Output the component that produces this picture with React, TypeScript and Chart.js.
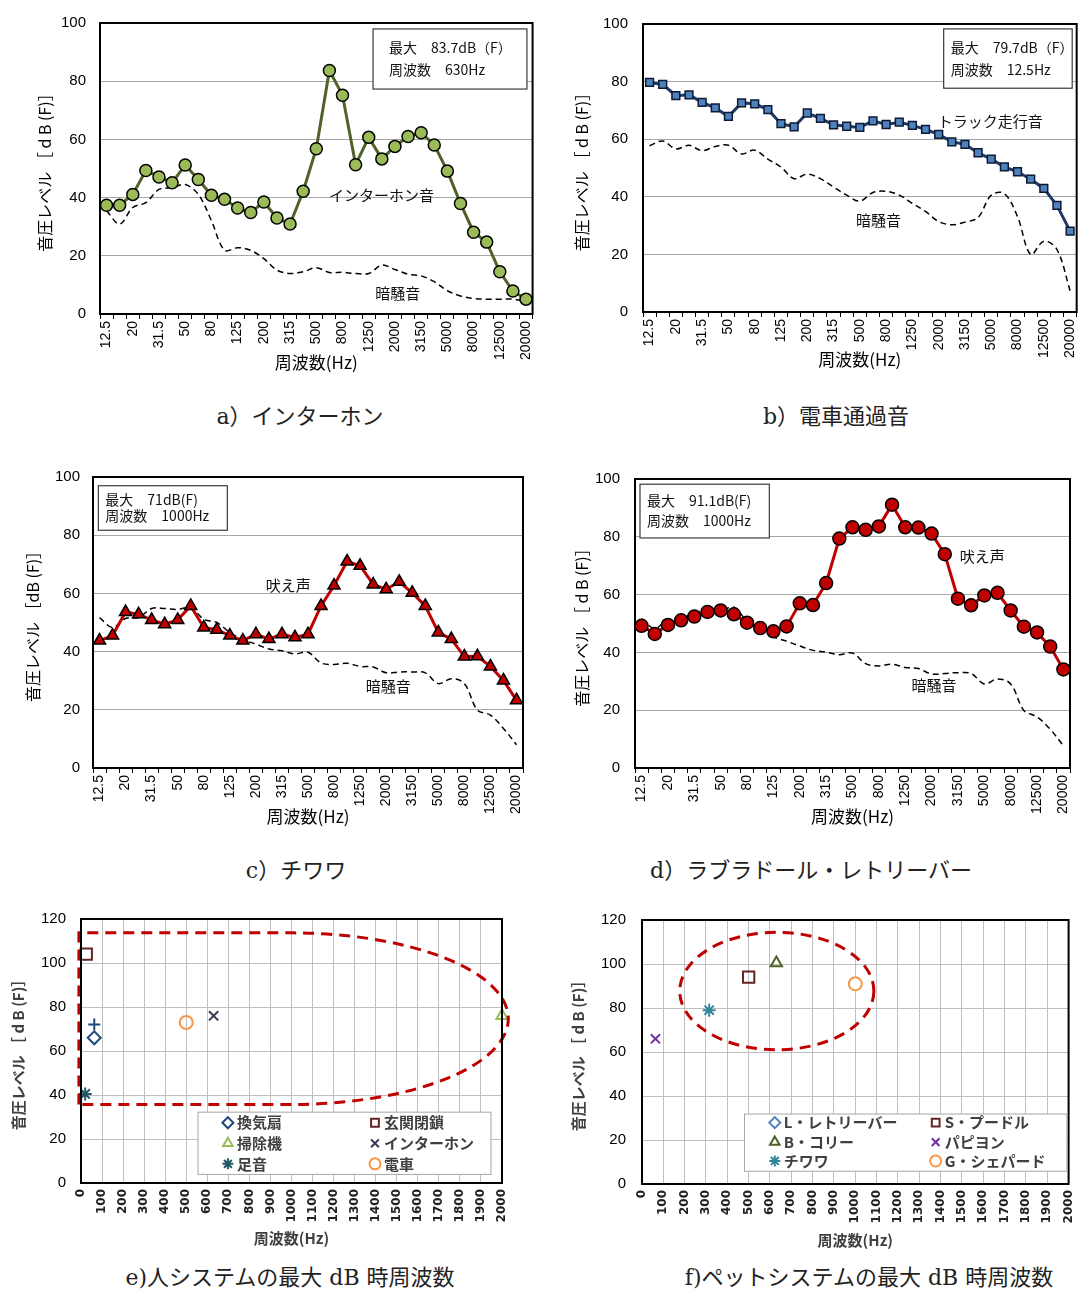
import React, { useEffect, useRef } from 'react';
import { Chart, registerables } from 'chart.js';
import { drawPoint } from 'chart.js/helpers';

Chart.register(...registerables);

const SANS = "'Liberation Sans', 'Noto Sans CJK JP', sans-serif";
const JP = "'Noto Sans CJK JP', 'Liberation Sans', sans-serif";
const BOLDX = "'DejaVu Sans', 'Noto Sans CJK JP', sans-serif";

// ---------- data ----------
const bands = ['12.5', '16', '20', '25', '31.5', '40', '50', '63', '80', '100', '125', '160', '200', '250', '315', '400', '500', '630', '800', '1000', '1250', '1600', '2000', '2500', '3150', '4000', '5000', '6300', '8000', '10000', '12500', '16000', '20000'];

const intercomLevel = [37.4, 37.4, 41.1, 49.3, 47.1, 45.1, 51.2, 46.2, 40.8, 39.4, 36.4, 34.9, 38.5, 33.0, 30.9, 42.2, 56.8, 83.7, 75.2, 51.3, 60.7, 53.3, 57.6, 61.0, 62.3, 58.1, 49.1, 38.0, 28.1, 24.7, 14.5, 7.9, 5.1];
const intercomNoise = [35.5, 30.9, 36.6, 38.3, 42.8, 43.4, 44.5, 41.1, 32.1, 21.9, 22.8, 21.9, 19.0, 15.1, 13.9, 14.5, 15.9, 14.3, 14.3, 13.9, 13.9, 16.8, 15.3, 13.7, 13.1, 11.1, 8.0, 6.2, 5.3, 5.1, 5.1, 5.1, 4.3];

const truckLevel = [79.7, 79.0, 75.1, 75.4, 72.8, 70.9, 67.9, 72.6, 72.3, 70.3, 65.4, 64.3, 69.1, 67.2, 65.0, 64.5, 64.1, 66.4, 65.1, 65.9, 64.8, 63.4, 61.7, 59.1, 58.2, 55.3, 53.1, 50.4, 48.7, 46.1, 42.9, 37.0, 28.1];
const truckNoise = [57.7, 59.4, 56.6, 57.9, 56.0, 57.5, 57.9, 54.9, 56.2, 53.1, 50.3, 46.3, 47.9, 46.3, 43.4, 40.6, 38.5, 41.5, 41.9, 40.6, 37.7, 34.9, 31.4, 30.3, 31.2, 32.8, 40.6, 41.1, 33.1, 20.0, 24.6, 21.7, 7.4];

const chihuahuaLevel = [43.8, 45.5, 53.6, 52.8, 50.9, 49.4, 50.9, 55.7, 48.3, 47.5, 45.5, 43.8, 46.0, 44.3, 46.0, 44.9, 46.0, 55.7, 62.7, 71.0, 69.5, 63.1, 61.4, 64.0, 60.2, 55.7, 46.6, 44.3, 38.3, 38.4, 34.9, 30.1, 23.3];
const chihuahuaNoise = [51.7, 48.3, 51.4, 51.7, 54.8, 54.8, 54.5, 55.1, 51.1, 50.0, 46.6, 44.1, 42.6, 40.9, 40.3, 39.2, 39.8, 36.1, 35.6, 36.0, 34.9, 34.7, 32.7, 33.0, 33.0, 32.7, 29.0, 30.7, 29.0, 19.9, 18.2, 13.6, 8.0];

const labradorLevel = [49.2, 46.4, 49.5, 51.1, 52.4, 54.0, 54.5, 53.2, 50.3, 48.4, 47.3, 49.0, 57.0, 56.4, 64.0, 79.4, 83.3, 82.4, 83.6, 91.1, 83.3, 83.2, 81.1, 74.0, 58.6, 56.3, 59.7, 60.6, 54.5, 48.9, 46.9, 42.0, 34.1];
const labradorNoise = [51.7, 48.3, 51.4, 51.7, 53.7, 54.8, 54.5, 55.6, 51.1, 50.0, 45.5, 43.9, 42.2, 40.7, 40.1, 39.2, 39.8, 36.1, 35.3, 35.9, 34.8, 34.4, 32.5, 32.7, 33.0, 32.7, 29.1, 30.8, 29.1, 19.9, 17.7, 13.4, 7.7];

const humanSources = ['換気扇', '玄関閉鎖', '掃除機', 'インターホン', '足音', '電車'];
const humanFreq = [63, 25, 2000, 630, 20, 500];
const humanLevel = [66, 104, 76, 76, 40.5, 73];
const humanExtraFreq = [63];
const humanExtraLevel = [72];

const petSources = ['L・レトリーバー', 'S・プードル', 'B・コリー', 'パピヨン', 'チワワ', 'G・シェパード'];
const petFreq = [1000, 500, 630, 63, 315, 1000];
const petLevel = [91.1, 94, 100.5, 66, 79, 91];

const yTicks100 = [0, 20, 40, 60, 80, 100];
const yTicks120 = [0, 20, 40, 60, 80, 100, 120];

// ---------- geometry ----------
type Geom = { cx: number; cy: number; cw: number; ch: number; l: number; t: number; r: number; b: number };
const geomA: Geom = { cx: 0, cy: 0, cw: 545, ch: 385, l: 100, t: 20, r: 533, b: 314 };
const geomB: Geom = { cx: 545, cy: 0, cw: 544, ch: 385, l: 643, t: 20, r: 1087, b: 312 };
const geomC: Geom = { cx: 0, cy: 455, cw: 545, ch: 385, l: 93, t: 474, r: 523, b: 768 };
const geomD: Geom = { cx: 545, cy: 455, cw: 544, ch: 385, l: 635, t: 474, r: 1070, b: 768 };
const geomE: Geom = { cx: 0, cy: 895, cw: 545, ch: 360, l: 81, t: 907, r: 502, b: 1183 };
const geomF: Geom = { cx: 545, cy: 895, cw: 544, ch: 360, l: 642, t: 911, r: 1075, b: 1184 };

interface LinePanel {
  key: string;
  geom: Geom;
  label: string;
  values: number[];
  noise: number[];
  lineColor: string;
  pointStyle: string;
  pointRadius: number;
  pointFill: string;
  pointBorder: string;
  yTitle: string;
  yTitleX: number;
  xTitleY: number;
  yTickPad: number;
  infoLines: string[];
  infoBox: [number, number, number, number];
  infoPad: number;
  notes: { text: string; at: [number, number] }[];
}

function makeLineConfig(p: LinePanel): any {
  const g = p.geom;
  const yW = g.l - g.cx;
  const xH = g.cy + g.ch - g.b;
  const yTitleSize = 16;
  const xTitleSize = 17;
  const decor = {
    id: 'decor_' + p.key,
    beforeDatasetsDraw(chart: any) {
      const ctx = chart.ctx;
      const xs = chart.scales.x;
      const ys = chart.scales.y;
      const [i0, i1, vTop, vBot] = p.infoBox;
      const bx0 = xs.getPixelForValue(i0);
      const bx1 = xs.getPixelForValue(i1);
      const by0 = ys.getPixelForValue(vTop);
      const by1 = ys.getPixelForValue(vBot);
      ctx.save();
      ctx.fillStyle = '#ffffff';
      ctx.fillRect(bx0, by0, bx1 - bx0, by1 - by0);
      ctx.strokeStyle = '#3a3a3a';
      ctx.lineWidth = 1.2;
      ctx.strokeRect(bx0, by0, bx1 - bx0, by1 - by0);
      ctx.fillStyle = '#111';
      ctx.font = `14px ${JP}`;
      ctx.textBaseline = 'middle';
      ctx.textAlign = 'left';
      const h = by1 - by0;
      const fr = [0.31, 0.68];
      p.infoLines.forEach((ln, k) => {
        ctx.fillText(ln, bx0 + p.infoPad, by0 + h * fr[k]);
      });
      ctx.font = `15px ${JP}`;
      ctx.textAlign = 'center';
      p.notes.forEach((n) => {
        ctx.fillText(n.text, xs.getPixelForValue(n.at[0]), ys.getPixelForValue(n.at[1]));
      });
      ctx.restore();
    },
    afterDraw(chart: any) {
      const ctx = chart.ctx;
      const a = chart.chartArea;
      ctx.save();
      ctx.strokeStyle = '#000';
      ctx.lineWidth = 2;
      ctx.strokeRect(a.left, a.top, a.right - a.left, a.bottom - a.top);
      ctx.restore();
    },
  };
  return {
    type: 'line',
    data: {
      labels: bands,
      datasets: [
        {
          label: p.label,
          data: p.values,
          borderColor: p.lineColor,
          borderWidth: 3,
          pointStyle: p.pointStyle,
          pointRadius: p.pointRadius,
          pointBackgroundColor: p.pointFill,
          pointBorderColor: p.pointBorder,
          pointBorderWidth: 1.5,
          tension: 0,
          fill: false,
        },
        {
          label: '暗騒音',
          data: p.noise,
          borderColor: '#000',
          borderWidth: 1.5,
          borderDash: [6, 4],
          pointRadius: 0,
          tension: 0.35,
          fill: false,
        },
      ],
    },
    options: {
      responsive: false,
      animation: false,
      devicePixelRatio: 1,
      layout: { padding: { left: 0, top: g.t - g.cy, right: g.cx + g.cw - g.r, bottom: 0 } },
      plugins: { legend: { display: false }, tooltip: { enabled: false } },
      scales: {
        x: {
          type: 'category',
          offset: true,
          afterFit: (s: any) => { s.height = xH; },
          grid: { display: true, offset: true, drawOnChartArea: false, drawTicks: true, tickLength: 5, color: '#000', lineWidth: 1 },
          border: { display: false },
          ticks: {
            autoSkip: false,
            minRotation: 90,
            maxRotation: 90,
            padding: 2,
            color: '#000',
            font: { family: SANS, size: 14 },
            callback: (_v: any, i: number) => (i % 2 === 0 ? bands[i] : ''),
          },
          title: {
            display: true,
            text: '周波数(Hz)',
            color: '#000',
            font: { family: JP, size: xTitleSize },
            padding: { top: 0, bottom: g.cy + g.ch - p.xTitleY - (xTitleSize * 1.2) / 2 },
          },
        },
        y: {
          min: 0,
          max: 100,
          afterFit: (s: any) => { s.width = yW; },
          afterBuildTicks: (s: any) => { s.ticks = yTicks100.map((v) => ({ value: v })); },
          grid: { color: '#a6a6a6', lineWidth: 1, drawTicks: false },
          border: { display: false },
          ticks: { padding: p.yTickPad, color: '#000', font: { family: SANS, size: 15 } },
          title: {
            display: true,
            text: p.yTitle,
            color: '#000',
            font: { family: JP, size: yTitleSize },
            padding: { top: p.yTitleX - g.cx - (yTitleSize * 1.2) / 2, bottom: 0 },
          },
        },
      },
    },
    plugins: [decor],
  };
}

interface ScatterSeries {
  label: string;
  x: number[];
  y: number[];
  style: string;
  color: string;
  fill: string;
  radius: number;
  order: number;
  inLegend: boolean;
}

interface ScatterPanel {
  key: string;
  geom: Geom;
  series: ScatterSeries[];
  yTitleX: number;
  xTitleY: number;
  yTickPad: number;
  ellipse: { cx: number; cy: number; rx: number; ry: number; leftX?: number };
  legendBox: [number, number, number, number];
  legendCols: [number, number];
  legendRows: [number, number, number];
}

function makeScatterConfig(p: ScatterPanel): any {
  const g = p.geom;
  const yW = g.l - g.cx;
  const xH = g.cy + g.ch - g.b;
  const titleSize = 15;
  const decor = {
    id: 'sdecor_' + p.key,
    afterDatasetsDraw(chart: any) {
      const ctx = chart.ctx;
      const xs = chart.scales.x;
      const ys = chart.scales.y;
      const e = p.ellipse;
      const pcx = xs.getPixelForValue(e.cx);
      const pcy = ys.getPixelForValue(e.cy);
      const prx = Math.abs(xs.getPixelForValue(e.cx + e.rx) - pcx);
      const pry = Math.abs(ys.getPixelForValue(e.cy + e.ry) - pcy);
      ctx.save();
      ctx.strokeStyle = '#C00000';
      ctx.lineWidth = 3;
      ctx.setLineDash([11, 7]);
      ctx.beginPath();
      if (e.leftX !== undefined) {
        const lx = xs.getPixelForValue(e.leftX);
        ctx.moveTo(lx, pcy + pry);
        ctx.lineTo(lx, pcy - pry);
        ctx.lineTo(pcx, pcy - pry);
        ctx.ellipse(pcx, pcy, prx, pry, 0, -Math.PI / 2, Math.PI / 2);
        ctx.lineTo(lx, pcy + pry);
      } else {
        ctx.ellipse(pcx, pcy, prx, pry, 0, 0, Math.PI * 2);
      }
      ctx.stroke();
      ctx.restore();
    },
    afterDraw(chart: any) {
      const ctx = chart.ctx;
      const xs = chart.scales.x;
      const ys = chart.scales.y;
      const a = chart.chartArea;
      ctx.save();
      ctx.strokeStyle = '#000';
      ctx.lineWidth = 2;
      ctx.strokeRect(a.left, a.top, a.right - a.left, a.bottom - a.top);
      // legend
      const [lx0, lx1, lyTop, lyBot] = p.legendBox;
      const bx0 = xs.getPixelForValue(lx0);
      const bx1 = xs.getPixelForValue(lx1);
      const by0 = ys.getPixelForValue(lyTop);
      const by1 = ys.getPixelForValue(lyBot);
      ctx.fillStyle = '#fff';
      ctx.fillRect(bx0, by0, bx1 - bx0, by1 - by0);
      ctx.strokeStyle = '#a6a6a6';
      ctx.lineWidth = 1;
      ctx.strokeRect(bx0, by0, bx1 - bx0, by1 - by0);
      const items = p.series.filter((s) => s.inLegend);
      items.forEach((s, k) => {
        const col = k % 2;
        const row = Math.floor(k / 2);
        const mx = bx0 + (bx1 - bx0) * p.legendCols[col];
        const my = by0 + (by1 - by0) * p.legendRows[row];
        ctx.strokeStyle = s.color;
        ctx.fillStyle = s.fill;
        ctx.lineWidth = 2;
        ctx.setLineDash([]);
        drawPoint(ctx, { pointStyle: s.style as any, radius: 5.5, rotation: 0, borderWidth: 2 }, mx, my);
        ctx.fillStyle = '#404040';
        ctx.font = `bold 15px ${JP}`;
        ctx.textAlign = 'left';
        ctx.textBaseline = 'middle';
        ctx.fillText(s.label, mx + 9, my);
      });
      ctx.restore();
    },
  };
  return {
    type: 'scatter',
    data: {
      datasets: p.series.map((s) => ({
        label: s.label,
        data: s.x.map((xv, i) => ({ x: xv, y: s.y[i] })),
        pointStyle: s.style,
        pointRadius: s.radius,
        borderColor: s.color,
        backgroundColor: s.fill,
        pointBorderWidth: 2,
        order: s.order,
        showLine: false,
        clip: false,
      })),
    },
    options: {
      responsive: false,
      animation: false,
      devicePixelRatio: 1,
      layout: { padding: { left: 0, top: g.t - g.cy, right: g.cx + g.cw - g.r, bottom: 0 } },
      plugins: { legend: { display: false }, tooltip: { enabled: false } },
      scales: {
        x: {
          type: 'linear',
          min: 0,
          max: 2000,
          afterFit: (s: any) => { s.height = xH; },
          grid: { color: '#bfbfbf', lineWidth: 1, drawTicks: false },
          border: { display: false },
          ticks: {
            stepSize: 100,
            autoSkip: false,
            minRotation: 90,
            maxRotation: 90,
            padding: 6,
            color: '#222',
            font: { family: BOLDX, size: 12, weight: 'bold' },
            callback: (v: any) => String(v),
          },
          title: {
            display: true,
            text: '周波数(Hz)',
            color: '#404040',
            font: { family: JP, size: titleSize, weight: 'bold' },
            padding: { top: 0, bottom: g.cy + g.ch - p.xTitleY - (titleSize * 1.2) / 2 },
          },
        },
        y: {
          min: 0,
          max: 120,
          afterFit: (s: any) => { s.width = yW; },
          afterBuildTicks: (s: any) => { s.ticks = yTicks120.map((v) => ({ value: v })); },
          grid: { color: '#bfbfbf', lineWidth: 1, drawTicks: false },
          border: { display: false },
          ticks: { padding: p.yTickPad, color: '#000', font: { family: SANS, size: 15 } },
          title: {
            display: true,
            text: '音圧レベル ［ d B (F)］',
            color: '#404040',
            font: { family: JP, size: titleSize, weight: 'bold' },
            padding: { top: p.yTitleX - g.cx - (titleSize * 1.2) / 2, bottom: 0 },
          },
        },
      },
    },
    plugins: [decor],
  };
}

// ---------- panels ----------
const panelA: LinePanel = {
  key: 'a', geom: geomA, label: 'インターホン音', values: intercomLevel, noise: intercomNoise,
  lineColor: '#4F6228', pointStyle: 'circle', pointRadius: 6, pointFill: '#9BBB59', pointBorder: '#000',
  yTitle: '音圧レベル ［ d B (F)］', yTitleX: 45, xTitleY: 363, yTickPad: 14,
  infoLines: ['最大　83.7dB（F）', '周波数　630Hz'], infoBox: [20.33, 32.07, 97.96, 77.3], infoPad: 16,
  notes: [{ text: 'インターホン音', at: [20.97, 40.7] }, { text: '暗騒音', at: [22.21, 7.1] }],
};
const panelB: LinePanel = {
  key: 'b', geom: geomB, label: 'トラック走行音', values: truckLevel, noise: truckNoise,
  lineColor: '#1F3864', pointStyle: 'rect', pointRadius: 5.5, pointFill: '#4F81BD', pointBorder: '#0d1a33',
  yTitle: '音圧レベル ［ d B (F)］', yTitleX: 582, xTitleY: 360, yTickPad: 15,
  infoLines: ['最大　79.7dB（F）', '周波数　12.5Hz'], infoBox: [22.38, 32.16, 98.3, 77.7], infoPad: 7,
  notes: [{ text: 'トラック走行音', at: [25.92, 66.3] }, { text: '暗騒音', at: [17.42, 31.7] }],
};
const panelC: LinePanel = {
  key: 'c', geom: geomC, label: '吠え声', values: chihuahuaLevel, noise: chihuahuaNoise,
  lineColor: '#C00000', pointStyle: 'triangle', pointRadius: 7, pointFill: '#C00000', pointBorder: '#000',
  yTitle: '音圧レベル ［dB (F)］', yTitleX: 33, xTitleY: 817, yTickPad: 13,
  infoLines: ['最大　71dB(F)', '周波数　1000Hz'], infoBox: [-0.09, 9.81, 97.0, 81.7], infoPad: 7,
  notes: [{ text: '吠え声', at: [14.49, 62.8] }, { text: '暗騒音', at: [22.16, 28.0] }],
};
const panelD: LinePanel = {
  key: 'd', geom: geomD, label: '吠え声', values: labradorLevel, noise: labradorNoise,
  lineColor: '#C00000', pointStyle: 'circle', pointRadius: 6.5, pointFill: '#C00000', pointBorder: '#000',
  yTitle: '音圧レベル ［ d B (F)］', yTitleX: 582, xTitleY: 817, yTickPad: 15,
  infoLines: ['最大　91.1dB(F)', '周波数　1000Hz'], infoBox: [-0.12, 9.69, 98.2, 79.6], infoPad: 7,
  notes: [{ text: '吠え声', at: [25.85, 73.4] }, { text: '暗騒音', at: [22.19, 28.5] }],
};

const humanStyles = ['rectRot', 'rect', 'triangle', 'crossRot', 'star', 'circle'];
const humanColors = ['#1F497D', '#632523', '#9BBB59', '#403152', '#215968', '#F79646'];
const petStyles = ['rectRot', 'rect', 'triangle', 'crossRot', 'star', 'circle'];
const petColors = ['#4F81BD', '#632523', '#4F6228', '#7030A0', '#31859C', '#F79646'];

const panelE: ScatterPanel = {
  key: 'e', geom: geomE,
  series: [
    ...humanSources.map((name, i) => ({
      label: name, x: [humanFreq[i]], y: [humanLevel[i]], style: humanStyles[i], color: humanColors[i],
      fill: 'rgba(255,255,255,0)', radius: humanStyles[i] === 'rect' ? 8 : 6.5, order: 0, inLegend: true,
    })),
    { label: '換気扇(2)', x: humanExtraFreq, y: humanExtraLevel, style: 'cross', color: '#1F497D', fill: 'rgba(255,255,255,0)', radius: 6, order: 0, inLegend: false },
  ],
  yTitleX: 18, xTitleY: 1238, yTickPad: 15,
  ellipse: { cx: 1000, cy: 74.7, rx: 1030, ry: 39, leftX: -10 },
  legendBox: [555.8, 1947.7, 32.2, 3.9], legendCols: [0.102, 0.604], legendRows: [0.17, 0.5, 0.83],
};

const panelF: ScatterPanel = {
  key: 'f', geom: geomF,
  series: petSources.map((name, i) => ({
    label: name, x: [petFreq[i]], y: [petLevel[i]], style: petStyles[i], color: petColors[i],
    fill: petStyles[i] === 'circle' ? '#ffffff' : 'rgba(255,255,255,0)',
    radius: petStyles[i] === 'rect' ? 8 : petStyles[i] === 'rectRot' ? 4.5 : 6.5,
    order: i === 0 ? 10 : 0, inLegend: true,
  })),
  yTitleX: 578, xTitleY: 1240, yTickPad: 16,
  ellipse: { cx: 632, cy: 87.7, rx: 455, ry: 26.7 },
  legendBox: [480.4, 1992, 31.8, 5.8], legendCols: [0.094, 0.593], legendRows: [0.15, 0.49, 0.82],
};

// ---------- components ----------
function ChartCanvas({ geom, build }: { geom: Geom; build: () => any }) {
  const ref = useRef<HTMLCanvasElement | null>(null);
  useEffect(() => {
    if (!ref.current) return;
    const chart = new Chart(ref.current, build());
    return () => chart.destroy();
  }, []);
  return (
    <div style={{ position: 'absolute', left: geom.cx, top: geom.cy, width: geom.cw, height: geom.ch }}>
      <canvas ref={ref} width={geom.cw} height={geom.ch} style={{ display: 'block', width: geom.cw, height: geom.ch }} />
    </div>
  );
}

const captions = [
  { text: 'a）インターホン', x: 300, y: 417 },
  { text: 'b）電車通過音', x: 836, y: 417 },
  { text: 'c）チワワ', x: 296, y: 871 },
  { text: 'd）ラブラドール・レトリーバー', x: 811, y: 871 },
  { text: 'e)人システムの最大 dB 時周波数', x: 290, y: 1278 },
  { text: 'f)ペットシステムの最大 dB 時周波数', x: 869, y: 1278 },
];

export default function App() {
  return (
    <div style={{ position: 'absolute', left: 0, top: 0, width: 1089, height: 1292, background: '#fff', overflow: 'hidden' }}>
      <ChartCanvas geom={geomA} build={() => makeLineConfig(panelA)} />
      <ChartCanvas geom={geomB} build={() => makeLineConfig(panelB)} />
      <ChartCanvas geom={geomC} build={() => makeLineConfig(panelC)} />
      <ChartCanvas geom={geomD} build={() => makeLineConfig(panelD)} />
      <ChartCanvas geom={geomE} build={() => makeScatterConfig(panelE)} />
      <ChartCanvas geom={geomF} build={() => makeScatterConfig(panelF)} />
      {captions.map((c) => (
        <div
          key={c.text}
          style={{
            position: 'absolute', left: c.x - 250, top: c.y - 15, width: 500, height: 30, lineHeight: '30px',
            textAlign: 'center', fontSize: 22, color: '#222',
            fontFamily: "'DejaVu Serif', 'Noto Sans CJK JP', serif", whiteSpace: 'nowrap',
          }}
        >
          {c.text}
        </div>
      ))}
    </div>
  );
}
